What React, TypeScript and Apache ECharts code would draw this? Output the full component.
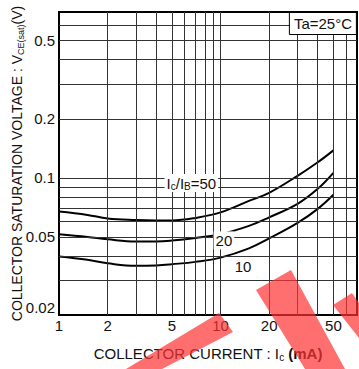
import React, { useEffect, useRef } from "react";
import * as echarts from "echarts";

// Collector current Ic (mA) sample points
const currentMA = [1, 1.5, 2, 3, 4, 5, 7, 10, 15, 20, 30, 40, 50];
// VCE(sat) (V) for Ic/IB = 50, 20, 10
const vce50 = [0.0673, 0.0647, 0.0621, 0.061, 0.0607, 0.0607, 0.0625, 0.0667, 0.0763, 0.0839, 0.1024, 0.12, 0.138];
const vce20 = [0.0516, 0.05, 0.0486, 0.0474, 0.0474, 0.0479, 0.0494, 0.0516, 0.0569, 0.0629, 0.0737, 0.0879, 0.106];
const vce10 = [0.0397, 0.0382, 0.0367, 0.0356, 0.0358, 0.0363, 0.0373, 0.0392, 0.0437, 0.0491, 0.0589, 0.0695, 0.082];

// grid lines and tick labels
const xGridValues = [2, 3, 4, 5, 6, 7, 8, 9, 10, 20, 30, 40, 50, 60];
const yGridValues = [0.03, 0.04, 0.05, 0.06, 0.07, 0.08, 0.09, 0.1, 0.2, 0.3, 0.4, 0.5, 0.6];
const xTickLabels = [1, 2, 5, 10, 20, 50];
const yTickLabels = [0.02, 0.05, 0.1, 0.2, 0.5];

// curve annotations
const annotX = [6.6, 10.5, 13.8];
const annotY = [0.094, 0.048, 0.0353];
const annotText = ["I{s|c}/I{s|B}=50", "20", "10"];

const FONT = "'Liberation Sans', Arial, sans-serif";
const NARROW = "'Liberation Sans Narrow', 'Arial Narrow', 'Liberation Sans', Arial, sans-serif";

export default function App() {
  const ref = useRef<HTMLDivElement>(null);
  useEffect(() => {
    if (!ref.current) return;
    const chart = echarts.init(ref.current, undefined, { renderer: "svg" });
    const curve = (vals: number[], z: number) => ({
      type: "line",
      data: currentMA.map((x, i) => [x, vals[i]]),
      smooth: 0.4,
      symbol: "none",
      showSymbol: false,
      silent: true,
      lineStyle: { color: "#000", width: 2 },
      z,
    });
    const option: any = {
      animation: false,
      title: {
        text: "Ta=25°C",
        right: 2,
        top: 12,
        padding: [4, 5, 4, 5],
        backgroundColor: "#fff",
        borderColor: "#000",
        borderWidth: 1,
        textStyle: { fontFamily: FONT, fontSize: 15, fontWeight: "normal", color: "#111" },
      },
      grid: {
        left: 59,
        right: 2,
        top: 12,
        bottom: 54,
        show: true,
        borderColor: "#000",
        borderWidth: 2,
        backgroundColor: "#fff",
      },
      xAxis: {
        type: "log",
        logBase: 10,
        min: 1,
        max: 70,
        axisLine: { show: false },
        axisTick: { show: false },
        axisLabel: { show: false },
        splitLine: { show: false },
        minorSplitLine: { show: false },
        name: "COLLECTOR CURRENT : I{s|c} {b|(mA)}",
        nameLocation: "middle",
        nameGap: 30,
        nameTextStyle: {
          fontFamily: FONT,
          fontSize: 15,
          color: "#111",
          lineHeight: 17,
          rich: {
            s: { fontFamily: FONT, fontSize: 10, color: "#111", verticalAlign: "bottom", lineHeight: 12 },
            b: { fontFamily: FONT, fontSize: 15, fontWeight: "bold", color: "#111", lineHeight: 17 },
          },
        },
      },
      yAxis: {
        type: "log",
        logBase: 10,
        min: 0.02,
        max: 0.7,
        axisLine: { show: false },
        axisTick: { show: false },
        axisLabel: { show: false },
        splitLine: { show: false },
        minorSplitLine: { show: false },
        name: "COLLECTOR SATURATION VOLTAGE : V{s|CE(sat)}(V)",
        nameLocation: "middle",
        nameRotate: 90,
        nameGap: 34,
        nameTextStyle: {
          fontFamily: FONT,
          fontSize: 14,
          color: "#111",
          lineHeight: 16,
          rich: {
            s: { fontFamily: FONT, fontSize: 9, color: "#111", verticalAlign: "bottom", lineHeight: 11 },
          },
        },
      },
      series: [
        {
          type: "line",
          data: [],
          z: 1,
          silent: true,
          markLine: {
            silent: true,
            symbol: ["none", "none"],
            animation: false,
            lineStyle: { color: "#333", width: 1, type: "solid" },
            label: { show: false },
            emphasis: { disabled: true },
            data: [
              ...xGridValues.map((v) => ({ xAxis: v })),
              ...yGridValues.map((v) => ({ yAxis: v })),
            ],
          },
        },
        {
          type: "line",
          data: [],
          z: 1,
          silent: true,
          markLine: {
            silent: true,
            symbol: ["none", "none"],
            animation: false,
            lineStyle: { color: "rgba(0,0,0,0)", width: 0 },
            emphasis: { disabled: true },
            label: {
              show: true,
              position: "start",
              distance: 3,
              color: "#111",
              fontFamily: NARROW,
              fontSize: 15,
            },
            data: [
              ...xTickLabels.map((v) => ({ xAxis: v, label: { formatter: String(v) } })),
              ...yTickLabels.map((v) => ({
                yAxis: v,
                label: v === 0.02 ? { formatter: String(v), verticalAlign: "bottom", distance: 4 } : { formatter: String(v), distance: 4 },
              })),
            ],
          },
        },
        {
          type: "line",
          data: [],
          z: 2,
          silent: true,
          markPoint: {
            silent: true,
            symbol: "rect",
            symbolSize: 1,
            itemStyle: { color: "rgba(0,0,0,0)" },
            label: {
              show: true,
              position: "inside",
              color: "#111",
              fontFamily: FONT,
              fontSize: 15,
              lineHeight: 16,
              backgroundColor: "#fff",
              padding: [1, 2, 1, 2],
              rich: {
                s: { fontFamily: FONT, fontSize: 10, color: "#111", verticalAlign: "bottom", lineHeight: 11 },
              },
            },
            data: annotX.map((x, i) => ({ coord: [x, annotY[i]], label: { formatter: annotText[i] } })),
          },
        },
        curve(vce50, 3),
        curve(vce20, 3),
        curve(vce10, 3),
      ],
      graphic: [
        {
          type: "polygon",
          silent: true,
          z: 100,
          shape: { points: [[126, 369], [219, 313], [233, 332], [162, 369]] },
          style: { fill: "rgba(255,50,50,0.7)" },
        },
        {
          type: "polygon",
          silent: true,
          z: 100,
          shape: { points: [[256, 290], [291, 270], [345, 369], [305, 369]] },
          style: { fill: "rgba(255,50,50,0.7)" },
        },
        {
          type: "polygon",
          silent: true,
          z: 100,
          shape: { points: [[333, 305], [352, 293], [359, 303], [359, 338]] },
          style: { fill: "rgba(255,50,50,0.7)" },
        },
      ],
    };
    chart.setOption(option);
    return () => chart.dispose();
  }, []);
  return (
    <div
      ref={ref}
      style={{ position: "fixed", left: 0, top: 0, width: 359, height: 369, background: "#fff" }}
    />
  );
}
